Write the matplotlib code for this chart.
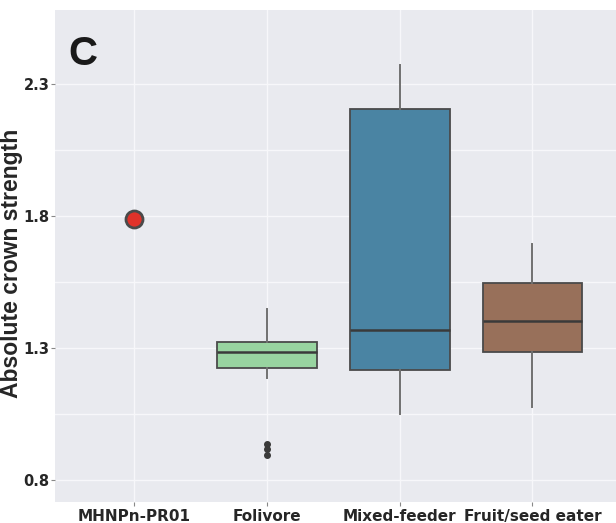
import matplotlib
matplotlib.use("Agg")
import matplotlib.pyplot as plt
from matplotlib.ticker import FixedLocator

categories = ["MHNPn-PR01", "Folivore", "Mixed-feeder", "Fruit/seed eater"]
specimen_value = 1.79

box_categories = ["Folivore", "Mixed-feeder", "Fruit/seed eater"]
whislo = [1.186, 1.05, 1.077]
q1 = [1.224, 1.217, 1.285]
med = [1.285, 1.368, 1.402]
q3 = [1.323, 2.205, 1.546]
whishi = [1.448, 2.372, 1.694]
fliers = [[0.936, 0.917, 0.894], [], []]
box_colors = ["#98d4a0", "#4a84a3", "#98705a"]

yticks = [0.8, 1.3, 1.8, 2.3]

fig = plt.figure(figsize=(6.16, 5.23), dpi=100)
ax = fig.add_axes([0.089, 0.040, 0.911, 0.941])
ax.set_facecolor("#e9eaef")
for s in ax.spines.values():
    s.set_visible(False)

ax.set_axisbelow(True)
ax.yaxis.set_major_locator(FixedLocator(yticks))
ax.yaxis.set_minor_locator(FixedLocator([1.05, 1.55, 2.05]))
ax.grid(True, which="both", axis="y", color="#f7f7fa", lw=1.0)
ax.grid(True, which="major", axis="x", color="#f7f7fa", lw=1.0)

stats = []
for i, c in enumerate(box_categories):
    stats.append(dict(whislo=whislo[i], q1=q1[i], med=med[i], q3=q3[i],
                      whishi=whishi[i], fliers=fliers[i], label=c))
positions = [categories.index(c) for c in box_categories]
bp = ax.bxp(stats, positions=positions, widths=0.75, patch_artist=True,
            showcaps=False,
            boxprops=dict(edgecolor="#4a4a4a", linewidth=1.3),
            medianprops=dict(color="#3a3a3a", linewidth=1.8),
            whiskerprops=dict(color="#707070", linewidth=1.4),
            flierprops=dict(marker="o", markerfacecolor="#3a3a3a",
                            markeredgecolor="#3a3a3a", markersize=4))
for patch, col in zip(bp["boxes"], box_colors):
    patch.set_facecolor(col)

ax.scatter([categories.index("MHNPn-PR01")], [specimen_value], s=150,
           color="#e0322a", edgecolor="#4a4a4a", linewidth=2, zorder=5)

ax.set_xlim(-0.6, 3.63)
ax.set_ylim(0.717, 2.58)
ax.set_xticks(range(len(categories)))
ax.set_xticklabels(categories, fontsize=11, fontweight="bold", color="#262626")
ax.set_yticks(yticks)
ax.set_yticklabels([f"{v:.1f}" for v in yticks], fontsize=10.5,
                   fontweight="bold", color="#262626")
ax.tick_params(axis="both", which="major", length=3, width=0.8, color="#888888", pad=2)
ax.tick_params(axis="y", which="major", pad=1)
ax.tick_params(axis="y", which="minor", length=0)

fig.text(0.0, 0.497, "Absolute crown strength", rotation=90, fontsize=16.5,
         fontweight="bold", family="Liberation Sans", color="#262626",
         ha="left", va="center")
ax.text(0.025, 0.95, "C", transform=ax.transAxes, fontsize=29,
        fontweight="bold", family="Liberation Sans", color="#1a1a1a",
        va="top", ha="left")

fig.savefig("out.png", dpi=100)
